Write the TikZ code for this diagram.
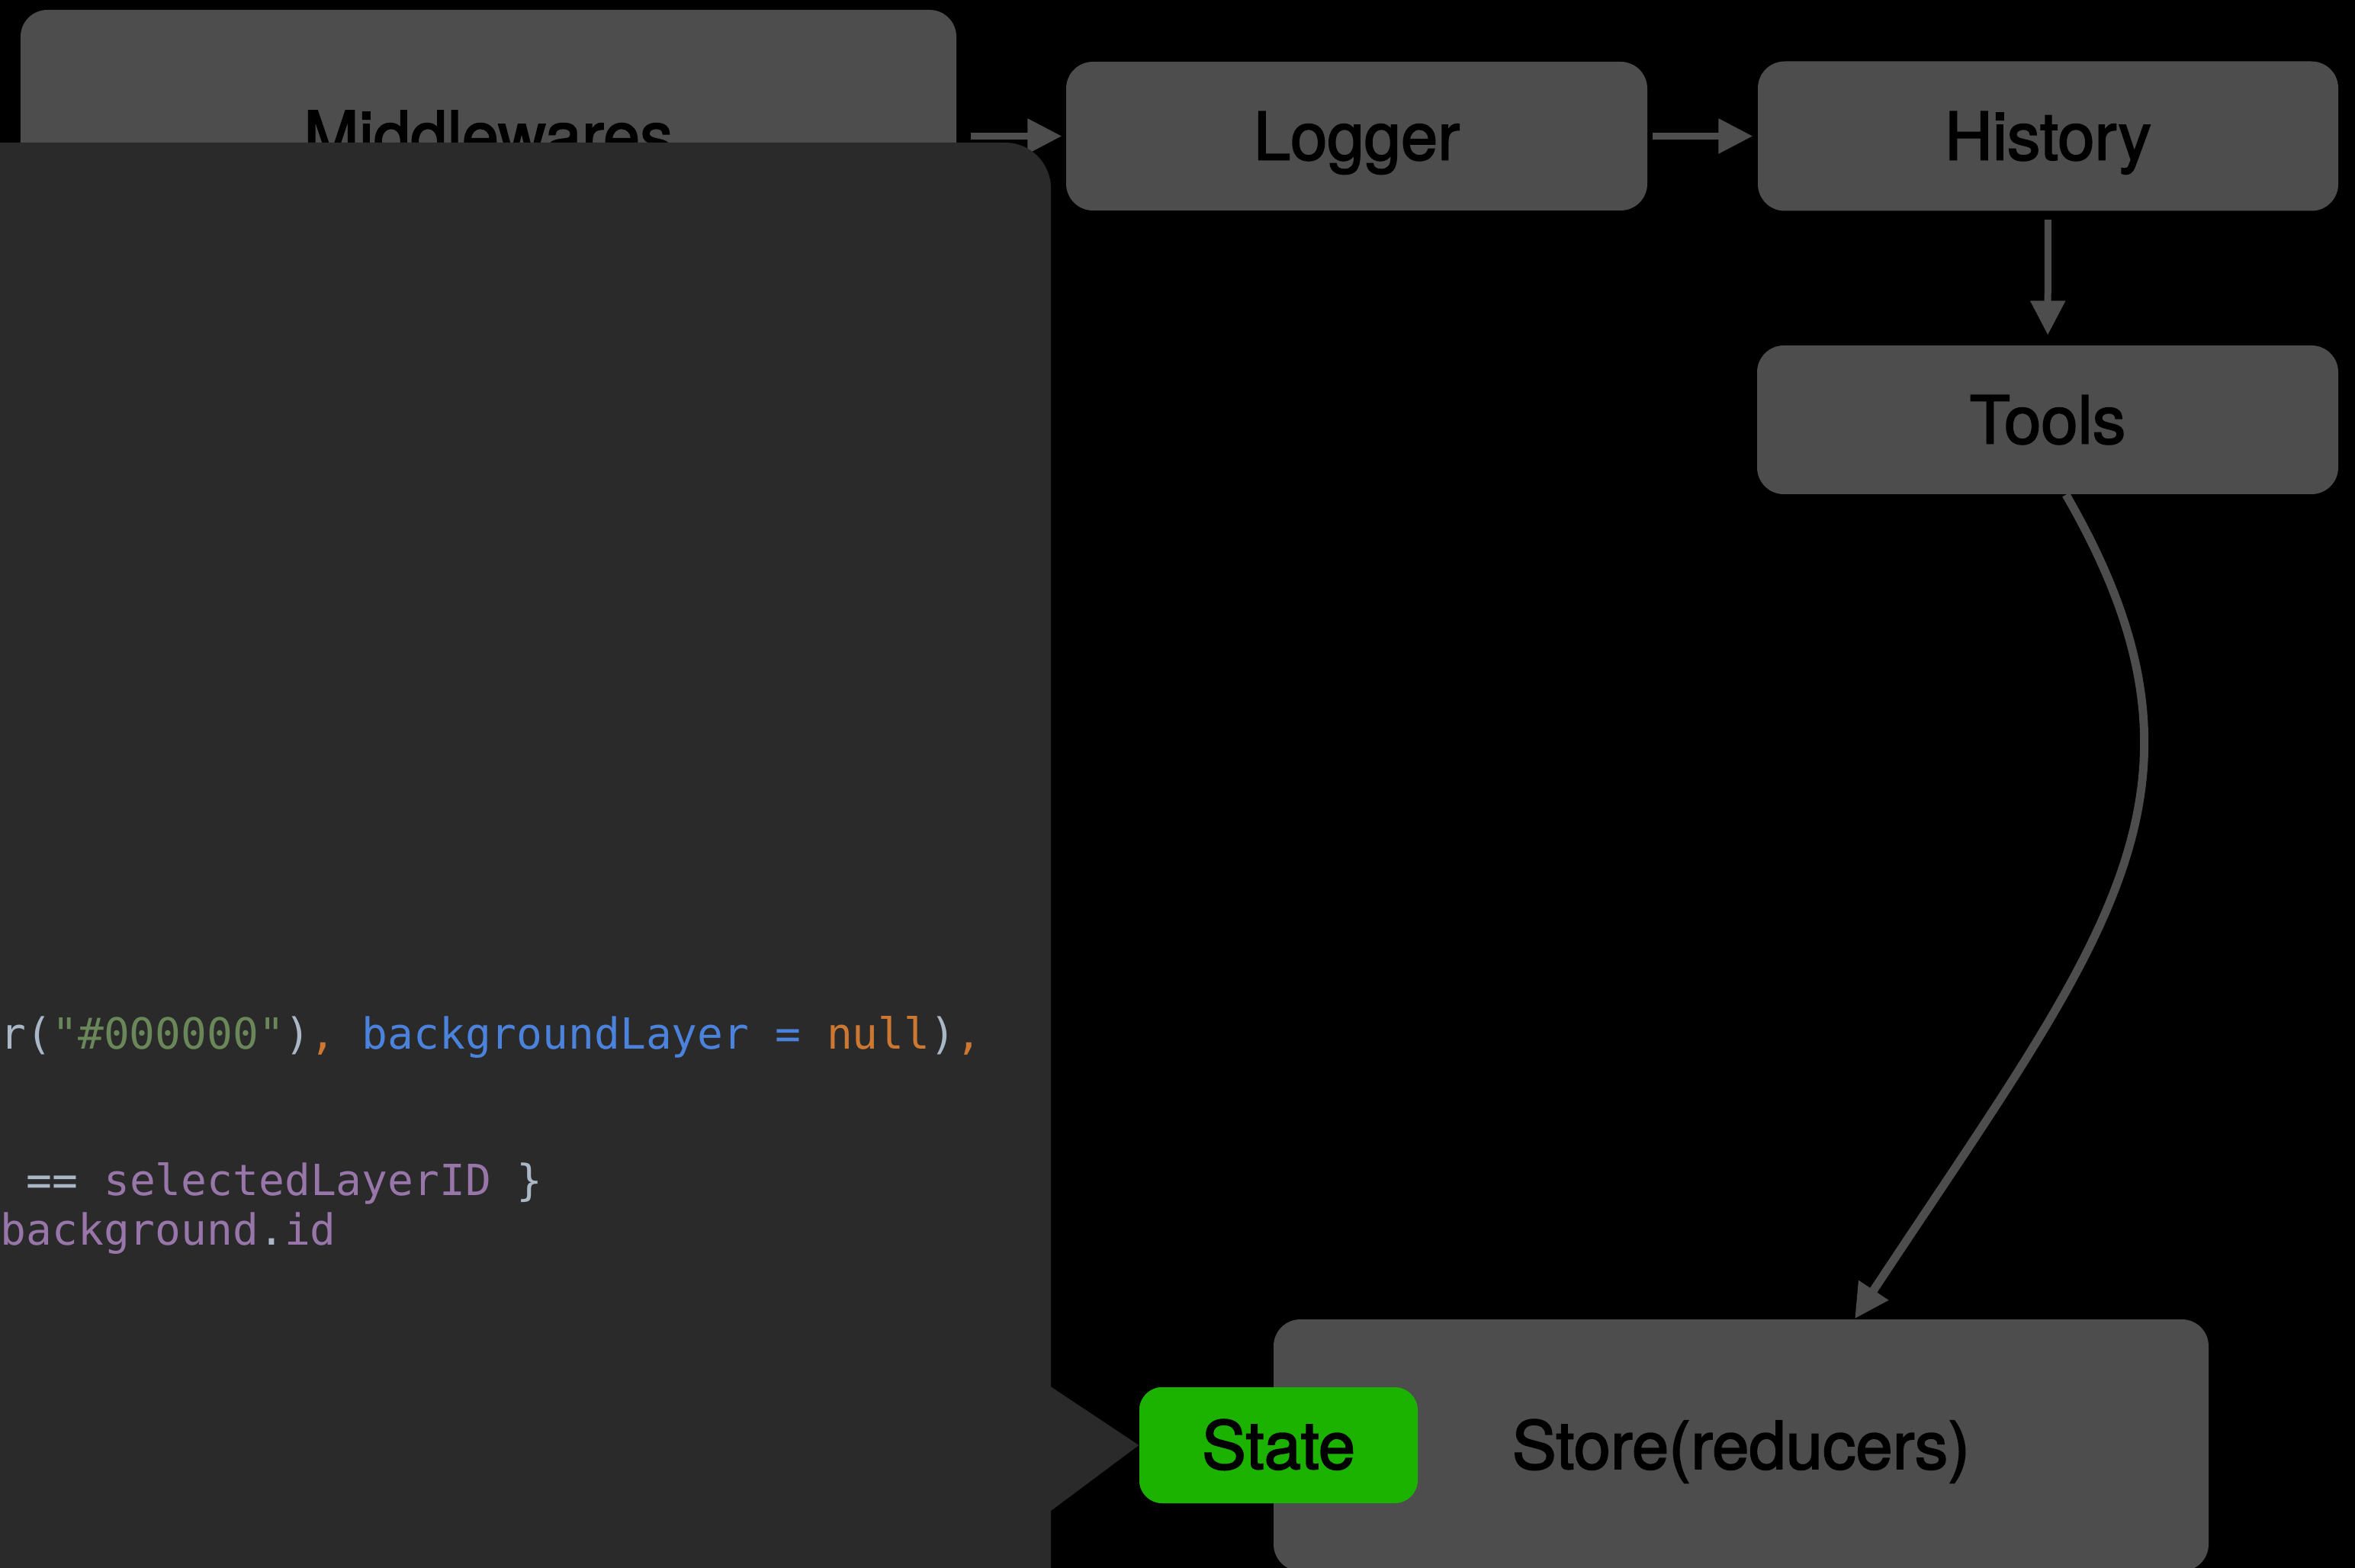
\documentclass[tikz,border=0pt]{standalone}
\usepackage{fontspec}
\setmainfont{TeX Gyre Heros}
\newfontfamily\labelfont[FakeBold=2.2]{TeX Gyre Heros}
\newfontfamily\codefont{DejaVu Sans Mono}
\usepackage{tikz}
\usetikzlibrary{arrows.meta, calc}
\definecolor{boxgray}{HTML}{4D4D4D}
\definecolor{panelgray}{HTML}{2A2A2A}
\definecolor{stategreen}{HTML}{1BB200}
\definecolor{codefg}{HTML}{A9B7C6}
\definecolor{codestr}{HTML}{6A8759}
\definecolor{codekw}{HTML}{CC7832}
\definecolor{codeblue}{HTML}{4B82DC}
\definecolor{codepurple}{HTML}{9876AA}

\begin{document}
\begin{tikzpicture}[
  box/.style={rectangle, rounded corners=0.35cm, fill=boxgray, text=black,
              inner sep=0pt, text height=0.62cm, text depth=0cm,
              font=\labelfont\fontsize{24.7}{29}\selectfont},
  statebox/.style={box, fill=stategreen, rounded corners=0.3cm},
  flow/.style={-{Triangle[length=0.45cm, width=0.44cm]}, line width=0.09cm,
               draw=boxgray},
  codeline/.style={anchor=base west, inner sep=0pt, text=codefg,
                   font=\codefont\fontsize{16}{19}\selectfont}
]
\useasboundingbox (0,0) rectangle (30.88,-20.56);
\fill[black] (0,0) rectangle (30.88,-20.56);
\clip (0,0) rectangle (30.88,-20.56);

% Top row
\node[box, minimum width=12.27cm, minimum height=3.29cm] (mw) at (6.405,-1.775)
      {Middlewares};
\node[box, minimum width=7.62cm, minimum height=1.95cm] (logger) at (17.79,-1.785)
      {Logger};
\node[box, minimum width=7.61cm, minimum height=1.96cm] (history) at (26.855,-1.785)
      {History};
\node[box, minimum width=7.62cm, minimum height=1.95cm] (tools) at (26.85,-5.505)
      {Tools};

% Flow along the top
\draw[flow, shorten <=0.18cm, shorten >=0.05cm] (mw.east |- logger.west) -- (logger.west);
\draw[flow, shorten <=0.06cm, shorten >=0.06cm] (logger) -- (history);
\draw[flow, shorten <=0.11cm, shorten >=0.13cm] (history) -- (tools);

% Code overlay
\fill[panelgray, rounded corners=0.6cm] (-1,-1.87) rectangle (13.78,-22);
\node[statebox, minimum width=3.65cm, minimum height=1.52cm] (state) at (16.765,-18.95)
      {State};
\fill[panelgray] (13.7,-18.13) -- (state.west) -- (13.7,-19.87) -- cycle;

\node[codeline] (code1) at (0,-13.75)
      {r(\textcolor{codestr}{"\#000000"})\textcolor{codekw}{,} \textcolor{codeblue}{backgroundLayer = }\textcolor{codekw}{null})\textcolor{codekw}{,}};
\node[codeline] (code2) at (0.34,-15.67)
      {== \textcolor{codepurple}{selectedLayerID} \}};
\node[codeline] (code3) at (0,-16.32)
      {\textcolor{codepurple}{background}.\textcolor{codepurple}{id}};

% Store
\node[box, minimum width=12.26cm, minimum height=3.3cm] (store) at (22.83,-18.95)
      {Store(reducers)};
\node[statebox, minimum width=3.65cm, minimum height=1.52cm] at (state) {State};

\draw[flow, line width=0.11cm] ([xshift=0.24cm]tools.south) .. controls (29.34,-10.38) and (27.62,-12.29)
      .. ([xshift=1.49cm]store.north);

\end{tikzpicture}
\end{document}
